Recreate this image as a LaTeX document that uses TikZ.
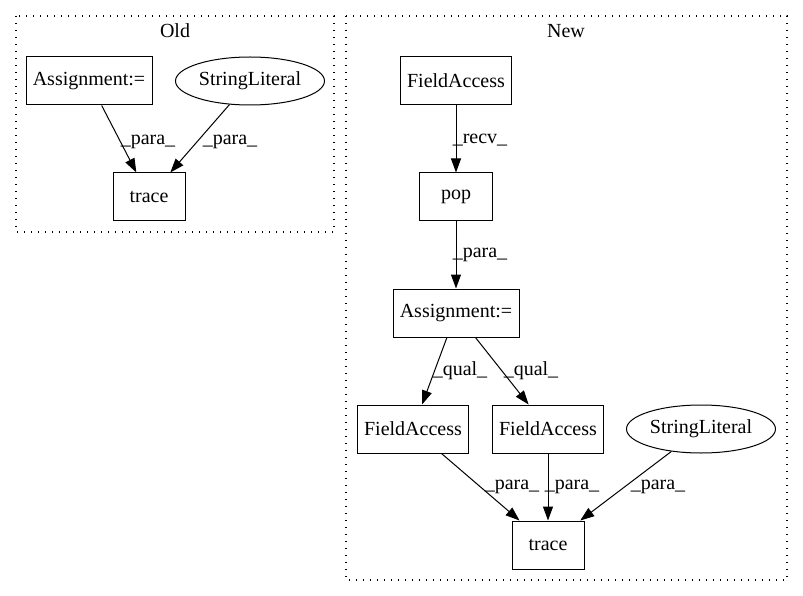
\documentclass[tikz,border=0pt]{standalone}
\usepackage{fontspec}
\setmainfont{Liberation Serif}
\usetikzlibrary{arrows.meta,shapes.geometric}
\tikzset{
	ast node/.style={draw, line width=1pt, inner sep=0pt, minimum height=48pt,
		font=\fontsize{20}{24}\selectfont},
	ast box/.style={ast node, rectangle},
	ast lit/.style={ast node, ellipse, minimum width=149pt},
	ast edge/.style={line width=1pt, -{Triangle[length=14pt,width=10pt]}},
	ast label/.style={font=\fontsize{20}{24}\selectfont, inner sep=0pt},
	cluster/.style={line width=1.3pt, dash pattern=on 1.4pt off 5.6pt}
}

\begin{document}
\begin{tikzpicture}[x=1pt, y=-1pt]
	\useasboundingbox (0,0) rectangle (803,596);
	% clusters
	\draw[cluster] (16,16) rectangle (334,232);
	\node[ast label] (oldTitle) at (175,31) {Old};
	\draw[cluster] (346,16) rectangle (787,580);
	\node[ast label] (newTitle) at (566,31) {New};
	% old
	\node[ast box, minimum width=126pt] (oldAssign) at (89,81) {Assignment:=};
	\node[ast lit] (oldLit) at (250,81) {StringLiteral};
	\node[ast box, minimum width=72pt] (oldTrace) at (149,197) {trace};
	\draw[ast edge] (oldAssign) -- (oldTrace);
	\draw[ast edge] (oldLit) -- (oldTrace);
	% new
	\node[ast box, minimum width=111pt] (newFA) at (456,81) {FieldAccess};
	\node[ast box, minimum width=73pt] (pop) at (456,197) {pop};
	\node[ast box, minimum width=126pt] (newAssign) at (456,313) {Assignment:=};
	\node[ast box, minimum width=111pt] (fa1) at (413,429) {FieldAccess};
	\node[ast box, minimum width=111pt] (fa2) at (548,429) {FieldAccess};
	\node[ast lit] (newLit) at (701,429) {StringLiteral};
	\node[ast box, minimum width=72pt] (newTrace) at (548,545) {trace};
	\draw[ast edge] (newFA) -- (pop);
	\draw[ast edge] (pop) -- (newAssign);
	\draw[ast edge] (newAssign) -- (fa1);
	\draw[ast edge] (newAssign) -- (fa2);
	\draw[ast edge] (fa1) -- (newTrace);
	\draw[ast edge] (fa2) -- (newTrace);
	\draw[ast edge] (newLit) -- (newTrace);
	% edge labels
	\node[ast label] (l1) at (148,142) {\_para\_};
	\node[ast label] (l2) at (230,142) {\_para\_};
	\node[ast label] (l3) at (480,140) {\_recv\_};
	\node[ast label] (l4) at (480,255) {\_para\_};
	\node[ast label] (l5) at (460,371) {\_qual\_};
	\node[ast label] (l6) at (531,371) {\_qual\_};
	\node[ast label] (l7) at (512,487) {\_para\_};
	\node[ast label] (l8) at (572,487) {\_para\_};
	\node[ast label] (l9) at (658,487) {\_para\_};
\end{tikzpicture}
\end{document}
